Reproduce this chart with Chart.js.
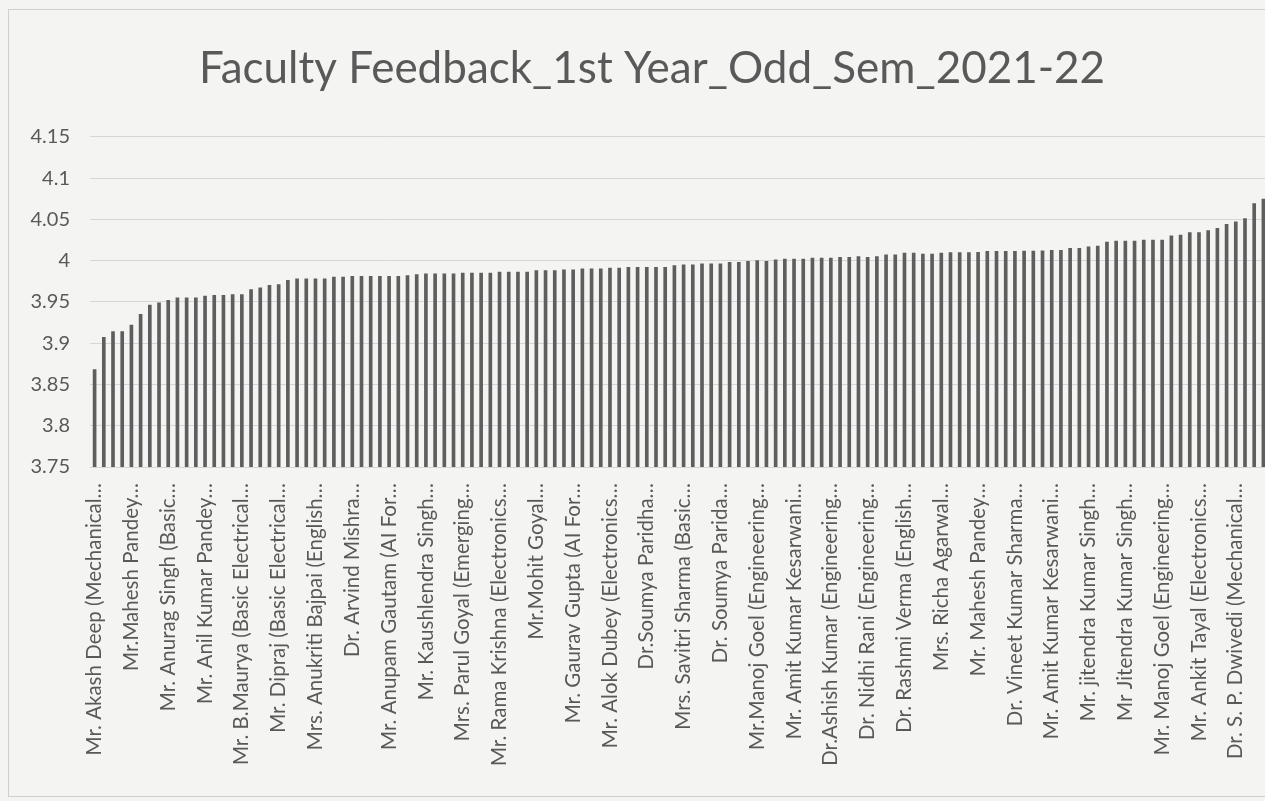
<!DOCTYPE html>
<html>
<head>
<meta charset="utf-8">
<script src="https://cdn.jsdelivr.net/npm/chart.js@4/dist/chart.umd.min.js"></script>
<style>
  html, body { margin: 0; padding: 0; overflow: hidden; background: #f4f4f2; }
  #frame { position: absolute; left: 8px; top: 9px; width: 1300px; height: 786px; border: 1px solid #cfcfcf; }
  #wrap { position: absolute; left: 0; top: 0; width: 1296px; height: 801px; }
</style>
</head>
<body>
<div id="frame"></div>
<div id="wrap"><canvas id="chart"></canvas></div>
<script>
// Faculty feedback scores, sorted ascending (128 faculty entries)
var scores = [
  3.868, 3.907, 3.914, 3.914, 3.922, 3.935, 3.946, 3.949, 3.952, 3.955,
  3.955, 3.955, 3.957, 3.958, 3.958, 3.959, 3.959, 3.965, 3.967, 3.970,
  3.971, 3.976, 3.978, 3.978, 3.978, 3.978, 3.980, 3.980, 3.981, 3.981,
  3.981, 3.981, 3.981, 3.981, 3.982, 3.983, 3.984, 3.984, 3.984, 3.984,
  3.985, 3.985, 3.985, 3.985, 3.986, 3.986, 3.986, 3.986, 3.988, 3.988,
  3.988, 3.989, 3.989, 3.990, 3.990, 3.990, 3.991, 3.991, 3.992, 3.992,
  3.992, 3.992, 3.992, 3.994, 3.995, 3.995, 3.996, 3.996, 3.996, 3.998,
  3.998, 3.999, 4.000, 3.999, 4.001, 4.002, 4.002, 4.002, 4.003, 4.003,
  4.003, 4.004, 4.004, 4.005, 4.004, 4.005, 4.007, 4.007, 4.009, 4.009,
  4.008, 4.008, 4.009, 4.0096, 4.0096, 4.0096, 4.010, 4.0112, 4.0112, 4.0112,
  4.0112, 4.0116, 4.0116, 4.012, 4.0124, 4.0124, 4.0148, 4.0148, 4.0168, 4.0177,
  4.0225, 4.0237, 4.0237, 4.0237, 4.025, 4.025, 4.025, 4.030, 4.031, 4.034,
  4.034, 4.0365, 4.039, 4.044, 4.047, 4.051, 4.069, 4.0745
];

// only every 4th category name is printed on the axis
var shownNames = [
  "Mr. Akash Deep (Mechanical…", "Mr.Mahesh Pandey…", "Mr. Anurag Singh (Basic…",
  "Mr. Anil Kumar Pandey…", "Mr. B.Maurya (Basic Electrical…", "Mr. Dipraj (Basic Electrical…",
  "Mrs. Anukriti Bajpai (English…", "Dr. Arvind Mishra…", "Mr. Anupam Gautam (AI For…",
  "Mr. Kaushlendra Singh…", "Mrs. Parul Goyal (Emerging…", "Mr. Rama Krishna (Electronics…",
  "Mr.Mohit Goyal…", "Mr. Gaurav Gupta (AI For…", "Mr. Alok Dubey (Electronics…",
  "Dr.Soumya Paridha…", "Mrs. Savitri Sharma (Basic…", "Dr. Soumya Parida…",
  "Mr.Manoj Goel (Engineering…", "Mr. Amit Kumar Kesarwani…", "Dr.Ashish Kumar (Engineering…",
  "Dr. Nidhi Rani (Engineering…", "Dr. Rashmi Verma (English…", "Mrs. Richa Agarwal…",
  "Mr. Mahesh Pandey…", "Dr. Vineet Kumar Sharma…", "Mr. Amit Kumar Kesarwani…",
  "Mr. jitendra Kumar Singh…", "Mr Jitendra Kumar Singh…", "Mr. Manoj Goel (Engineering…",
  "Mr. Ankit Tayal (Electronics…", "Dr. S. P. Dwivedi (Mechanical…"
];

var yMin = 3.75, yMax = 4.15, yStep = 0.05;

var labels = scores.map(function (v, i) {
  return i % 4 === 0 ? shownNames[i / 4] : '';
});

var grey = '#595959';

new Chart(document.getElementById('chart'), {
  type: 'bar',
  data: {
    labels: labels,
    datasets: [{
      data: scores,
      backgroundColor: '#5e5e5e',
      barThickness: 3
    }]
  },
  options: {
    responsive: true,
    maintainAspectRatio: false,
    animation: false,
    layout: { padding: { left: 8, top: 42, right: 0, bottom: 8 } },
    plugins: {
      legend: { display: false },
      tooltip: { enabled: false },
      title: {
        display: true,
        text: 'Faculty Feedback_1st Year_Odd_Sem_2021-22',
        color: grey,
        font: { family: 'Lato', size: 44, weight: 'normal' },
        padding: { top: 0, bottom: 42 }
      }
    },
    scales: {
      x: {
        grid: { display: false },
        border: { display: false },
        ticks: {
          autoSkip: false,
          maxRotation: 90,
          minRotation: 90,
          padding: 8,
          color: grey,
          font: { family: 'Lato', size: 20.5 }
        },
        afterFit: function (scale) { scale.height = 326; }
      },
      y: {
        min: yMin,
        max: yMax,
        border: { display: false },
        grid: { color: '#d6d6d6', drawTicks: false },
        ticks: {
          stepSize: yStep,
          padding: 20,
          color: grey,
          font: { family: 'Lato', size: 20 },
          callback: function (v) { return String(parseFloat(v.toFixed(2))); }
        },
        afterFit: function (scale) { scale.width = 82; }
      }
    }
  }
});
</script>
</body>
</html>
